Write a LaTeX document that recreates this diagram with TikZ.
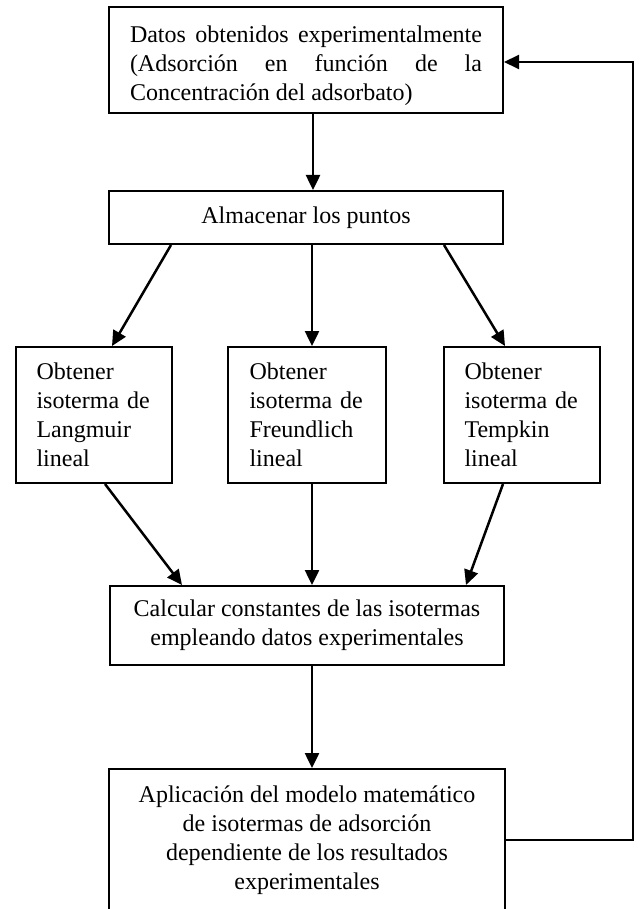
\documentclass[tikz,border=0pt]{standalone}
\usepackage{fontspec}
\setmainfont{Liberation Serif}
\usetikzlibrary{arrows.meta}

\tikzset{every picture/.style={line width=0.75pt}}
\tikzset{
  caja/.style={draw, line width=1pt, inner sep=0pt, font=\fontsize{12}{14.5}\selectfont},
  flecha/.style={line width=1.25pt, -{Triangle[length=7.5pt,width=7pt]}},
}

\begin{document}
\begin{tikzpicture}[x=0.5pt,y=0.5pt,yscale=-1,xscale=1]
\useasboundingbox (0,0) rectangle (639,909);

% Text Node
\node [caja, minimum width=197pt, minimum height=53pt, text width=176pt, align=justify] (datos) at (306,60)
  {\rule{0pt}{14.5pt}Datos obtenidos experimentalmente\linebreak (Adsorción en función de la\linebreak Concentración del adsorbato)};
% Text Node
\node [caja, minimum width=197pt, minimum height=26.5pt, align=center] (almacenar) at (306,217.5) {Almacenar los puntos};
% Text Node
\node [caja, minimum width=78pt, minimum height=68pt, text width=57.5pt, align=left] (langmuir) at (94,415)
  {Obtener\\ isoterma de\\ Langmuir\\ lineal};
% Text Node
\node [caja, minimum width=79pt, minimum height=68pt, text width=57.5pt, align=left] (freundlich) at (307,415)
  {Obtener\\ isoterma de\\ Freundlich\\ lineal};
% Text Node
\node [caja, minimum width=78pt, minimum height=68pt, text width=57.5pt, align=left] (tempkin) at (522,415)
  {Obtener\\ isoterma de\\ Tempkin\\ lineal};
% Text Node
\node [caja, minimum width=197pt, minimum height=39.5pt, align=center] (calcular) at (307,625.5)
  {Calcular constantes de las isotermas\\ empleando datos experimentales};
% Text Node
\node [caja, anchor=north, minimum width=198pt, inner ysep=8.5pt, align=center] (aplicacion) at (307,768)
  {Aplicación del modelo matemático\\ de isotermas de adsorción\\ dependiente de los resultados\\ experimentales\rule[-60pt]{0pt}{0pt}};

%Straight Lines
\draw [flecha] ([xshift=3.5pt]datos.south) -- ([xshift=3.5pt]almacenar.north);
\draw [flecha] ([xshift=31.5pt]almacenar.south west) -- ([xshift=48.5pt]langmuir.north west);
\draw [flecha] ([xshift=3pt]almacenar.south) -- ([xshift=2.5pt]freundlich.north);
\draw [flecha] ([xshift=168pt]almacenar.south west) -- ([xshift=31pt]tempkin.north west);
%Straight Lines
\draw [flecha] ([xshift=45pt]langmuir.south west) -- ([xshift=36.5pt]calcular.north west);
\draw [flecha] ([xshift=2.5pt]freundlich.south) -- ([xshift=2.5pt]calcular.north);
\draw [flecha] ([xshift=30pt]tempkin.south west) -- ([xshift=178.5pt]calcular.north west);
\draw [flecha] ([xshift=2.5pt]calcular.south) -- ([xshift=2.5pt]aplicacion.north);
%Straight Lines
\coordinate (retorno) at (633,840);
\draw [flecha, line width=1pt] ([yshift=36pt]aplicacion.north east) -- (retorno) |- ([yshift=1pt]datos.east);

\end{tikzpicture}
\end{document}
